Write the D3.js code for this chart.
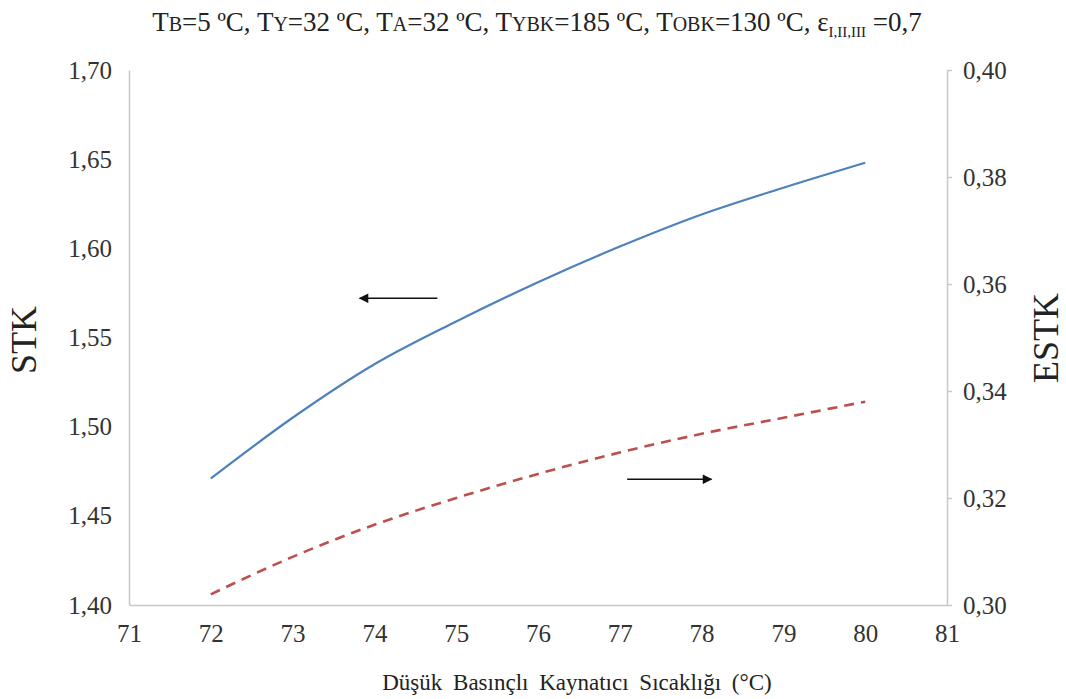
<!DOCTYPE html>
<meta charset="utf-8">
<style>
body { margin: 0; background: #fff; }
text { font-family: "Liberation Serif", "DejaVu Serif", serif; fill: #222; }
.axis path, .axis line { stroke: #c8c8c8; stroke-width: 1.5px; }
.axis text { font-size: 25px; fill: #333; font-family: "Liberation Serif", serif; }
</style>
<svg width="1066" height="699"></svg>
<script src="https://d3js.org/d3.v7.min.js"></script>
<script>
// data
var temps = [72, 73, 74, 75, 76, 77, 78, 79, 80];
var stk   = [1.471, 1.505, 1.535, 1.559, 1.581, 1.601, 1.619, 1.634, 1.648];
var estk  = [0.302, 0.309, 0.315, 0.320, 0.3245, 0.3285, 0.332, 0.335, 0.338];
var xTicks = [71, 72, 73, 74, 75, 76, 77, 78, 79, 80, 81];
var leftTicks = [1.40, 1.45, 1.50, 1.55, 1.60, 1.65, 1.70];
var rightTicks = [0.30, 0.32, 0.34, 0.36, 0.38, 0.40];
// annotation arrows (data units): [x1, x2, y]
var arrowLeft = [74.77, 73.82, 1.572];   // points to STK axis
var arrowRight = [77.09, 78.12, 0.3235]; // points to ESTK axis

var svg = d3.select("svg");
var plotLeft = 129, plotRight = 947, plotTop = 70, plotBottom = 605;

var x = d3.scaleLinear().domain([71, 81]).range([plotLeft, plotRight]);
var yL = d3.scaleLinear().domain([1.40, 1.70]).range([plotBottom, plotTop]);
var yR = d3.scaleLinear().domain([0.30, 0.40]).range([plotBottom, plotTop]);
var comma = function(f) { return function(d) { return d3.format(f)(d).replace(".", ","); }; };

svg.append("defs").append("marker")
    .attr("id", "ah")
    .attr("viewBox", "0 0 10 10")
    .attr("refX", 9).attr("refY", 5)
    .attr("markerWidth", 7).attr("markerHeight", 6)
    .attr("orient", "auto")
  .append("path")
    .attr("d", "M0,0L10,5L0,10z")
    .attr("fill", "#111");

// axes
svg.append("g")
    .attr("class", "axis")
    .attr("transform", "translate(0," + plotBottom + ")")
    .call(d3.axisBottom(x).tickValues(xTicks).tickSize(0).tickPadding(19).tickFormat(d3.format("d")));

svg.append("g")
    .attr("class", "axis")
    .attr("transform", "translate(" + plotLeft + ",0)")
    .call(d3.axisLeft(yL).tickValues(leftTicks).tickSize(0).tickPadding(17).tickFormat(comma(".2f")));

svg.append("g")
    .attr("class", "axis")
    .attr("transform", "translate(" + plotRight + ",0)")
    .call(d3.axisRight(yR).tickValues(rightTicks).tickSizeInner(5).tickSizeOuter(0).tickPadding(11).tickFormat(comma(".2f")));

svg.selectAll(".axis .domain").attr("stroke", "#c8c8c8");

// lines
var lineL = d3.line().x(function(d, i) { return x(temps[i]); }).y(function(d) { return yL(d); }).curve(d3.curveMonotoneX);
var lineR = d3.line().x(function(d, i) { return x(temps[i]); }).y(function(d) { return yR(d); }).curve(d3.curveMonotoneX);

svg.append("path")
    .datum(stk)
    .attr("d", lineL)
    .attr("fill", "none")
    .attr("stroke", "#4f81bd")
    .attr("stroke-width", 2.2);

svg.append("path")
    .datum(estk)
    .attr("d", lineR)
    .attr("fill", "none")
    .attr("stroke", "#bd4f4f")
    .attr("stroke-width", 2.6)
    .attr("stroke-dasharray", "10,7");

// arrows
svg.append("line")
    .attr("x1", x(arrowLeft[0])).attr("x2", x(arrowLeft[1]))
    .attr("y1", yL(arrowLeft[2])).attr("y2", yL(arrowLeft[2]))
    .attr("stroke", "#111").attr("stroke-width", 1.6)
    .attr("marker-end", "url(#ah)");
svg.append("line")
    .attr("x1", x(arrowRight[0])).attr("x2", x(arrowRight[1]))
    .attr("y1", yR(arrowRight[2])).attr("y2", yR(arrowRight[2]))
    .attr("stroke", "#111").attr("stroke-width", 1.6)
    .attr("marker-end", "url(#ah)");

// axis titles
svg.append("text")
    .attr("transform", "translate(36,340) rotate(-90)")
    .attr("text-anchor", "middle")
    .style("font-size", "36px")
    .text("STK");
svg.append("text")
    .attr("transform", "translate(1058,338) rotate(-90)")
    .attr("text-anchor", "middle")
    .style("font-size", "36px")
    .text("ESTK");
svg.append("text")
    .attr("x", 577).attr("y", 690)
    .attr("text-anchor", "middle")
    .style("font-size", "23px")
    .style("word-spacing", "5px")
    .text("Düşük Basınçlı Kaynatıcı Sıcaklığı (°C)");

// title with small subscript-like letters
var parts = [
  ["T", 0], ["B", 1], ["=5 ºC, T", 0], ["Y", 1], ["=32 ºC, T", 0], ["A", 1],
  ["=32 ºC, T", 0], ["YBK", 1], ["=185 ºC, T", 0], ["OBK", 1], ["=130 ºC, ε", 0],
  ["I,II,III", 2], [" =0,7", 0]
];
var title = svg.append("text")
    .attr("x", 537).attr("y", 31)
    .attr("text-anchor", "middle")
    .style("font-size", "27px");
title.selectAll("tspan")
  .data(parts)
  .enter().append("tspan")
    .style("font-size", function(d) { return d[1] === 0 ? "27px" : (d[1] === 1 ? "20px" : "15px"); })
    .attr("dy", function(d, i) {
      if (d[1] === 2) return 6;
      if (i > 0 && parts[i - 1][1] === 2) return -6;
      return 0;
    })
    .text(function(d) { return d[0]; });
</script>
